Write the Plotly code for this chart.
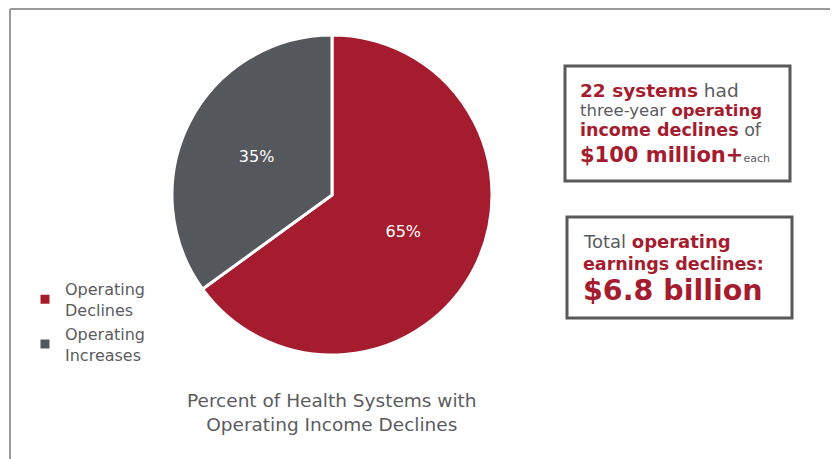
import plotly.graph_objects as go

labels = ["Operating<br>Declines", "Operating<br>Increases"]
values = [65, 35]
colors = ["#a61c2f", "#54575b"]

chart_title = ["Percent of Health Systems with", "Operating Income Declines"]

RED = "#a61c2f"
GRAY = "#5b5c5e"
FONT = "DejaVu Sans"

# page body has an 8px margin; work in reference pixel coords and shift
OFF = 8
W, H = 838 - OFF, 459 - OFF

def px(x):
    return (x - OFF) / W

def py(y):
    return 1 - (y - OFF) / H

fig = go.Figure()
fig.add_trace(go.Pie(
    labels=labels,
    values=values,
    sort=False,
    direction="clockwise",
    rotation=0,
    marker=dict(colors=colors, line=dict(color="white", width=3)),
    textinfo="percent",
    textposition="inside",
    insidetextfont=dict(color="white", size=16, family=FONT),
    domain=dict(x=[px(172), px(492)], y=[py(355), py(35)]),
    hoverinfo="label+percent",
))

shapes = [
    # outer frame
    dict(type="line", xref="paper", yref="paper", x0=px(10), x1=1.0, y0=py(9), y1=py(9),
         line=dict(color="#9a9a9a", width=2)),
    dict(type="line", xref="paper", yref="paper", x0=px(10), x1=px(10), y0=py(9), y1=0,
         line=dict(color="#9a9a9a", width=2)),
    # callout boxes
    dict(type="rect", xref="paper", yref="paper", x0=px(565), x1=px(790), y0=py(66), y1=py(181),
         line=dict(color="#58595b", width=3), fillcolor="rgba(0,0,0,0)"),
    dict(type="rect", xref="paper", yref="paper", x0=px(567), x1=px(792), y0=py(217), y1=py(318),
         line=dict(color="#58595b", width=3), fillcolor="rgba(0,0,0,0)"),
]

def red_b(t):
    return f"<span style='color:{RED}'><b>{t}</b></span>"

def ann(text, x, y, size, anchor="left"):
    return dict(text=text, xref="paper", yref="paper", x=px(x), y=py(y), xanchor=anchor,
                yanchor="middle", showarrow=False, font=dict(family=FONT, size=size, color=GRAY))

annotations = [
    ann(red_b("22 systems") + " had", 578, 90, 18.5),
    ann("three-year " + red_b("operating"), 578, 110, 16.5),
    ann(red_b("income declines") + " of", 578, 130, 17.5),
    ann(f"<span style='color:{RED}'><b>$100 million+</b></span><span style='font-size:11px'>each</span>", 578, 155, 21),
    ann("Total " + red_b("operating"), 581, 242, 18),
    ann(red_b("earnings declines:"), 581, 264, 17.5),
    ann(red_b("$6.8 billion"), 581, 290, 28.5),
    ann(chart_title[0] + "<br>" + chart_title[1], 332, 412, 18.5, anchor="center"),
]

fig.update_layout(
    width=W, height=H,
    margin=dict(l=0, r=0, t=0, b=0),
    paper_bgcolor="white",
    plot_bgcolor="white",
    showlegend=True,
    legend=dict(x=px(25), y=py(272), xanchor="left", yanchor="top",
                font=dict(family=FONT, size=16, color=GRAY),
                bgcolor="rgba(0,0,0,0)", tracegroupgap=4, itemwidth=30),
    shapes=shapes,
    annotations=annotations,
)

fig.write_html("out.html")
